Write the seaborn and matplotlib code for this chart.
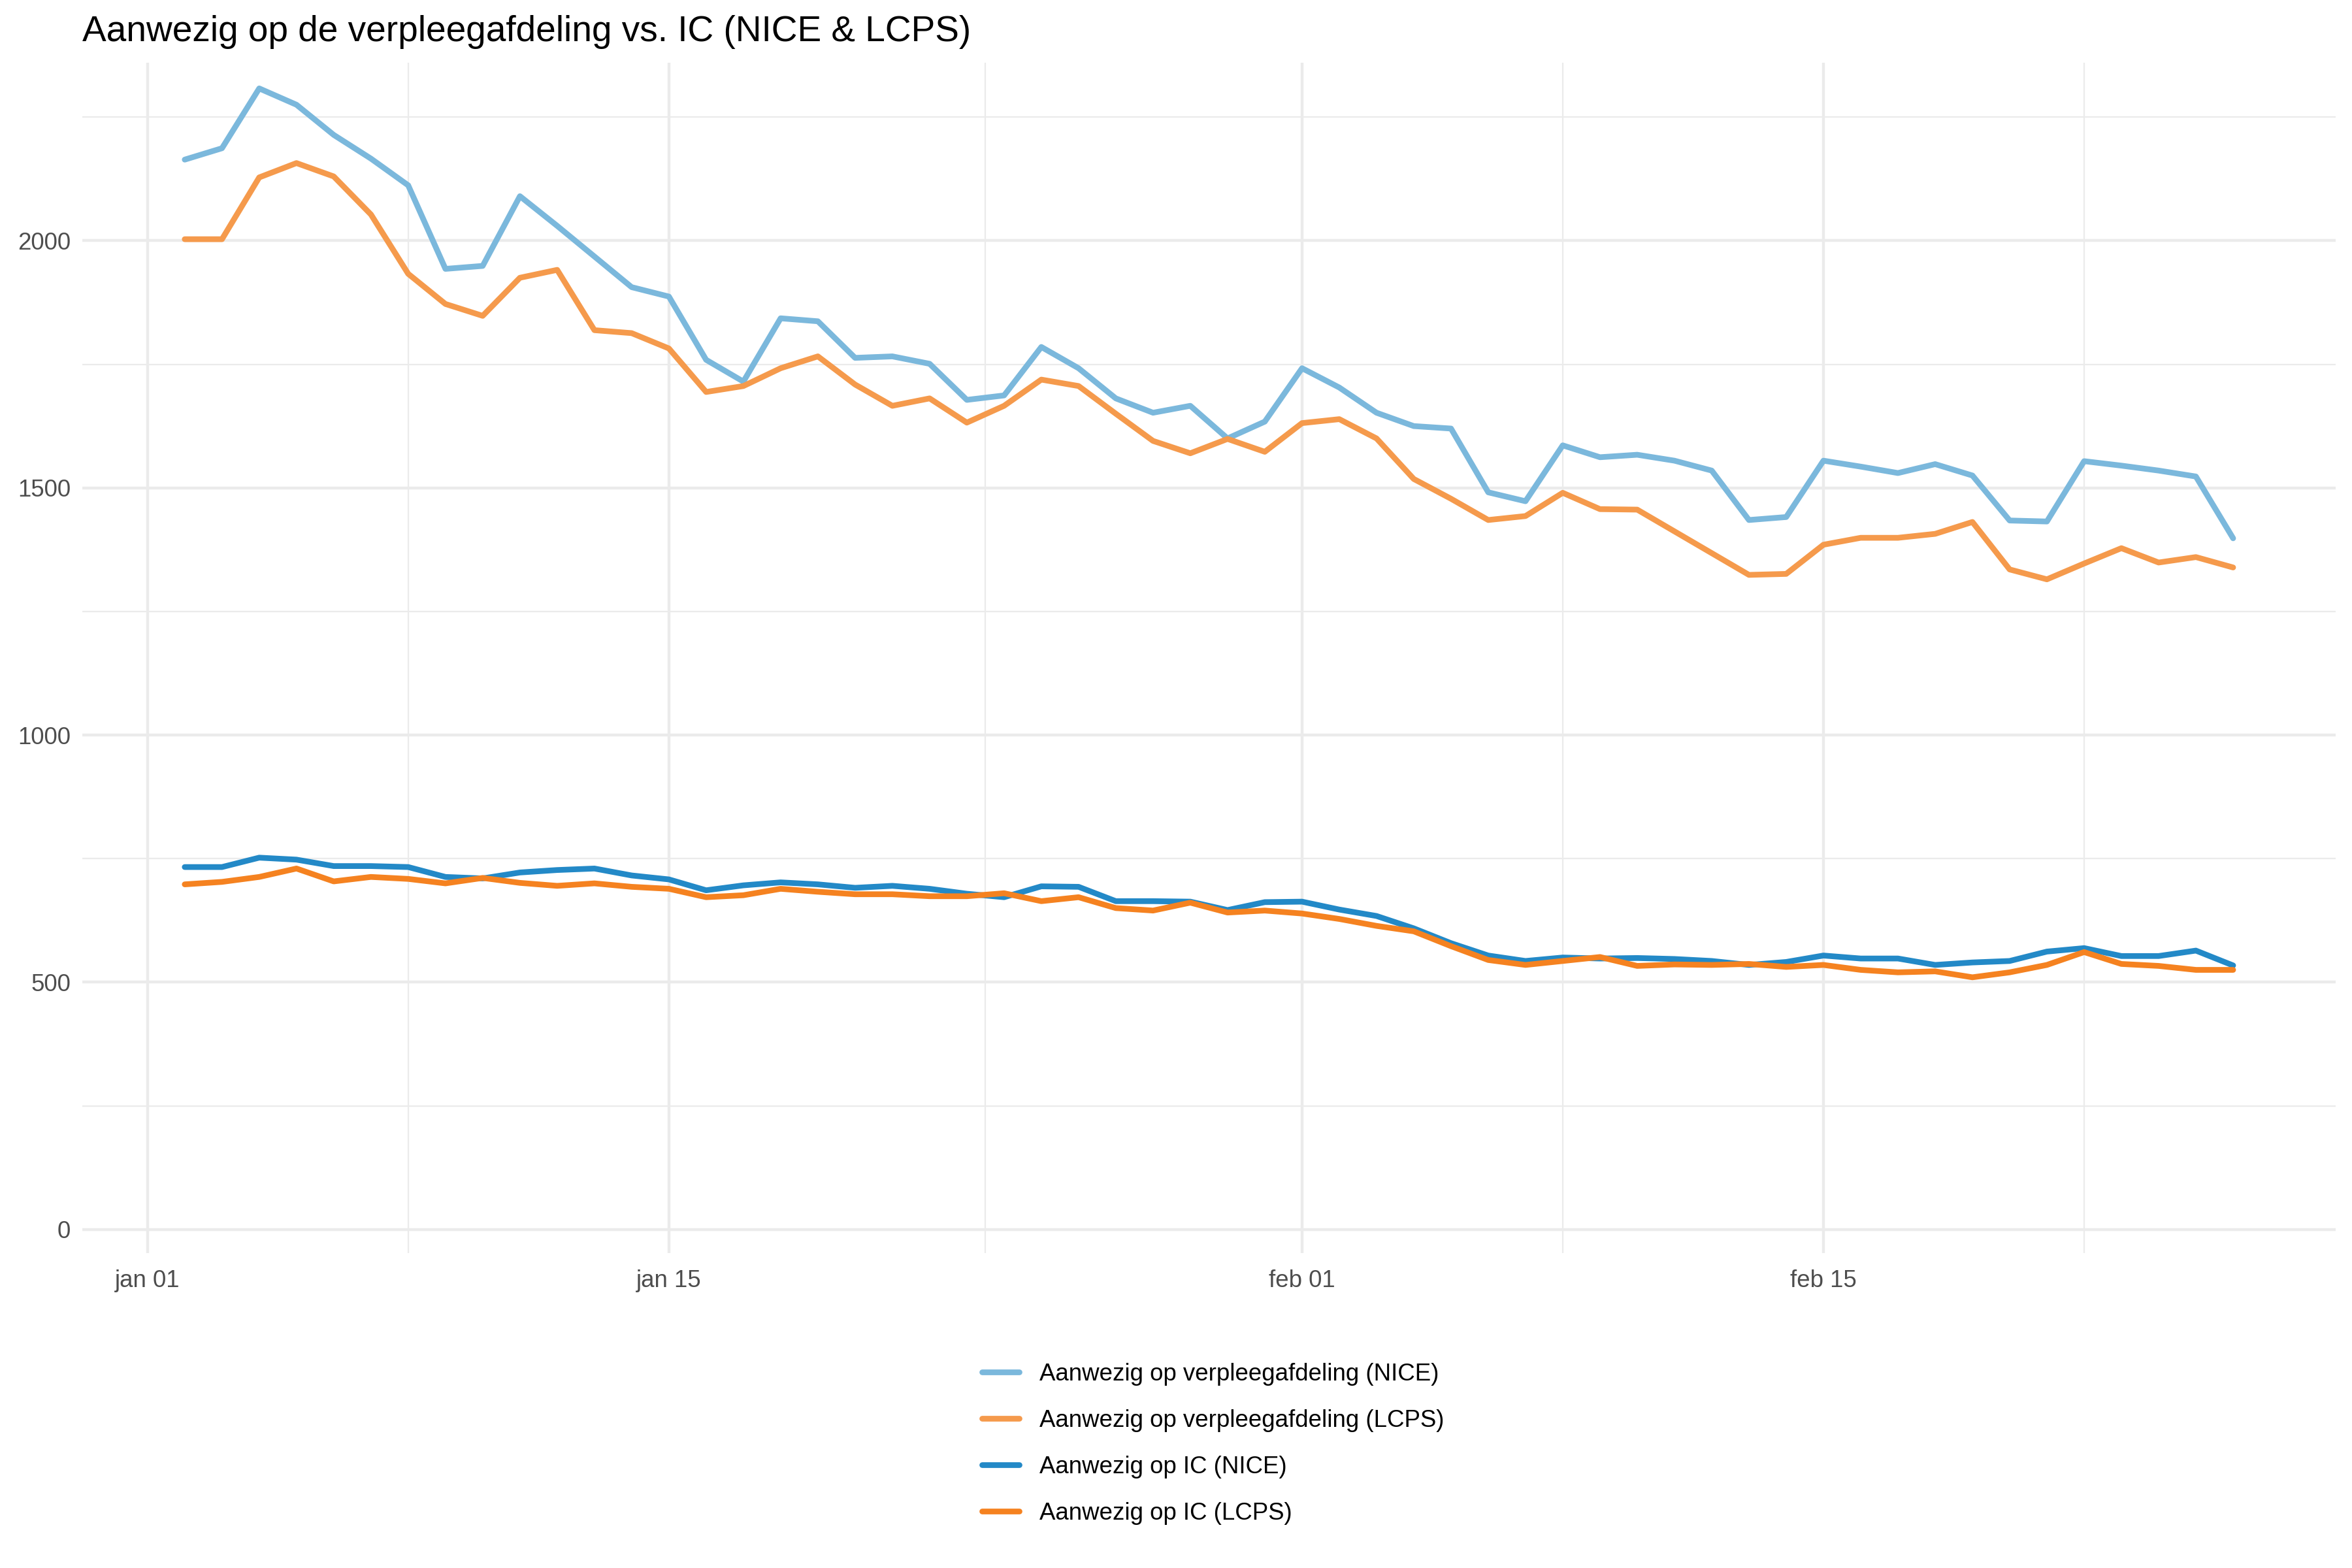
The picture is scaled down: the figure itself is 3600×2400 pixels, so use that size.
import pandas as pd
import seaborn as sns
import matplotlib.pyplot as plt
import matplotlib.dates as mdates
from matplotlib.ticker import FuncFormatter, MultipleLocator

# Data: dagelijks aantal patienten, 2 jan - 26 feb 2021
datums = pd.date_range('2021-01-02', '2021-02-26', freq='D')

verpleeg_nice = [2164, 2187, 2308, 2275, 2214, 2166, 2112, 1943, 1949, 2090,
                 2030, 1968, 1906, 1887, 1759, 1715, 1843, 1837, 1763, 1766,
                 1751, 1678, 1687, 1785, 1742, 1681, 1652, 1666, 1600, 1634,
                 1742, 1703, 1652, 1625, 1620, 1491, 1473, 1586, 1562, 1567,
                 1555, 1535, 1435, 1441, 1555, 1543, 1530, 1548, 1525, 1434,
                 1432, 1554, 1545, 1535, 1523, 1398]
verpleeg_lcps = [2003, 2003, 2128, 2157, 2130, 2053, 1933, 1872, 1848, 1925,
                 1941, 1819, 1813, 1782, 1694, 1706, 1742, 1766, 1709, 1666,
                 1681, 1632, 1666, 1719, 1706, 1650, 1595, 1570, 1599, 1573,
                 1631, 1639, 1600, 1518, 1478, 1435, 1443, 1490, 1457, 1456,
                 1412, 1368, 1324, 1326, 1385, 1399, 1399, 1407, 1431, 1335,
                 1315, 1347, 1378, 1349, 1360, 1339]
ic_nice = [733, 733, 752, 748, 735, 735, 733, 713, 710, 722,
           727, 730, 716, 708, 686, 696, 702, 698, 691, 695,
           689, 679, 672, 694, 693, 664, 664, 663, 646, 662,
           663, 647, 634, 609, 579, 554, 543, 550, 548, 549,
           547, 543, 535, 541, 554, 548, 548, 535, 540, 543,
           562, 569, 553, 553, 564, 534]
ic_lcps = [698, 703, 713, 730, 704, 713, 709, 700, 711, 701,
           695, 700, 693, 689, 672, 676, 689, 683, 678, 678,
           674, 674, 680, 664, 672, 650, 645, 661, 641, 645,
           639, 628, 614, 603, 573, 545, 535, 543, 551, 533,
           536, 535, 537, 531, 535, 525, 520, 522, 510, 520,
           535, 561, 537, 533, 525, 525]

series = ['Aanwezig op verpleegafdeling (NICE)',
          'Aanwezig op verpleegafdeling (LCPS)',
          'Aanwezig op IC (NICE)',
          'Aanwezig op IC (LCPS)']
kleuren = ['#7bb8dc', '#f59a4c', '#2389c7', '#f58220']

major_ticks = pd.to_datetime(['2021-01-01', '2021-01-15', '2021-02-01', '2021-02-15'])
minor_ticks = pd.to_datetime(['2021-01-08 00:00', '2021-01-23 12:00', '2021-02-08 00:00', '2021-02-22 00:00'])

df = pd.concat([
    pd.DataFrame({'datum': datums, 'aantal': waarden, 'serie': naam})
    for naam, waarden in zip(series, [verpleeg_nice, verpleeg_lcps, ic_nice, ic_lcps])
])

sns.set_theme(style='white')
plt.rcParams['font.family'] = ['Liberation Sans', 'DejaVu Sans']

fig = plt.figure(figsize=(12, 8), dpi=300)
ax = fig.add_axes([0.035, 0.2008, 0.958, 0.7592])

sns.lineplot(data=df, x='datum', y='aantal', hue='serie', hue_order=series,
             palette=kleuren, linewidth=2.1, ax=ax)

# assen en grid in ggplot minimal stijl
span = datums[-1] - datums[0]
ax.set_xlim(datums[0] - span * 0.05, datums[-1] + span * 0.05)
ax.set_ylim(-48, 2360)
ax.set_xticks(major_ticks)
ax.set_xticks(minor_ticks, minor=True)
ax.xaxis.set_major_formatter(FuncFormatter(lambda x, pos: mdates.num2date(x).strftime('%b %d').lower()))
ax.yaxis.set_major_locator(MultipleLocator(500))
ax.yaxis.set_minor_locator(MultipleLocator(250))
ax.grid(which='major', color='#ebebeb', linewidth=1.07)
ax.grid(which='minor', color='#ebebeb', linewidth=0.53)
ax.set_axisbelow(True)
for s in ax.spines.values():
    s.set_visible(False)
ax.tick_params(axis='both', which='both', length=0, labelsize=8.8, labelcolor='#4d4d4d')
ax.tick_params(axis='y', pad=4.3)
ax.tick_params(axis='x', pad=6)
ax.set_xlabel('')
ax.set_ylabel('')
ax.set_title('Aanwezig op de verpleegafdeling vs. IC (NICE & LCPS)', loc='left',
             fontsize=13.2, color='black', pad=8)

handles, labels = ax.get_legend_handles_labels()
ax.legend_.remove()
leg = fig.legend(handles, labels, loc='center left', bbox_to_anchor=(0.4175, 0.0792),
                 frameon=False, fontsize=8.8, handlelength=1.55, handletextpad=0.85,
                 labelspacing=0.98, borderpad=0, borderaxespad=0)
for t in leg.get_texts():
    t.set_color('black')

fig.savefig('out.png', dpi=300, facecolor='white')
